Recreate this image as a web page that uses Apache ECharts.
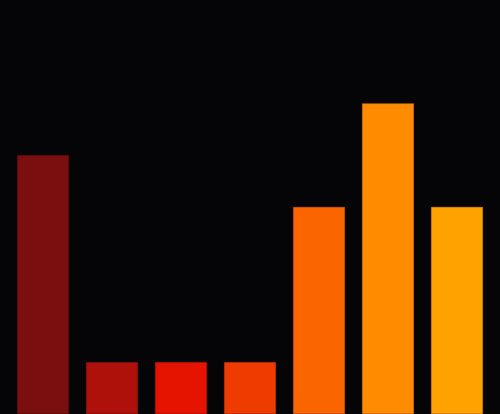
<!DOCTYPE html>
<html>
<head>
<meta charset="utf-8">
<script src="https://cdn.jsdelivr.net/npm/echarts@6/dist/echarts.min.js"></script>
<style>
  html, body { margin: 0; padding: 0; background: #050507; }
  #chart { width: 500px; height: 414px; }
</style>
</head>
<body>
<div id="chart"></div>
<script>
var categories = ['A', 'B', 'C', 'D', 'E', 'F', 'G'];
var values = [5, 1, 1, 1, 4, 6, 4];
var barColors = ['#7b0f10', '#ad110a', '#e41400', '#ee3c00', '#fa6500', '#ff8c00', '#ffa200'];
var borderColors = ['#6a0c0d', '#961008', '#c81200', '#d23400', '#dd5800', '#e27a00', '#e28f00'];

var chart = echarts.init(document.getElementById('chart'));

var option = {
    backgroundColor: '#050507',
    animation: false,
    grid: {
        left: 8.5,
        right: 8.5,
        top: 0,
        bottom: 0
    },
    xAxis: {
        type: 'category',
        data: categories,
        show: false
    },
    yAxis: {
        type: 'value',
        min: 0,
        max: 8,
        show: false
    },
    series: [
        {
            type: 'bar',
            barWidth: '75%',
            data: values.map(function (v, i) {
                return {
                    value: v,
                    itemStyle: {
                        color: barColors[i],
                        borderColor: borderColors[i],
                        borderWidth: 0.6
                    }
                };
            })
        }
    ]
};

chart.setOption(option, true);
</script>
</body>
</html>
